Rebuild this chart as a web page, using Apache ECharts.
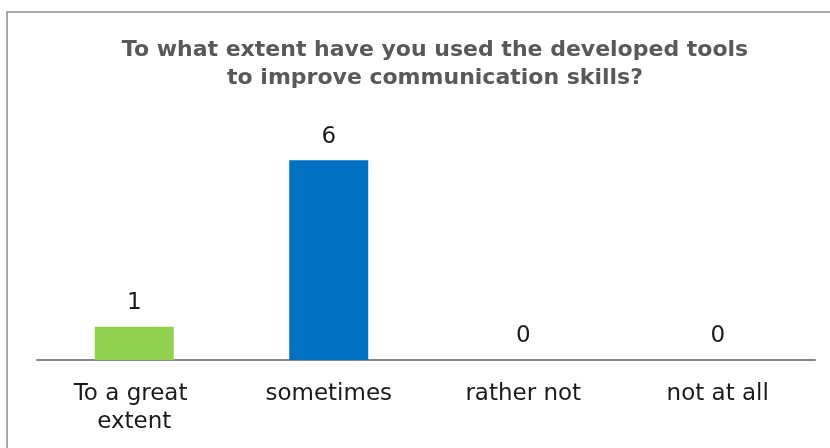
<!DOCTYPE html>
<html>
<head>
<meta charset="utf-8">
<script src="https://cdn.jsdelivr.net/npm/echarts@6/dist/echarts.min.js"></script>
<style>
  html, body { margin: 0; padding: 0; background: #fff; }
  #chart { width: 830px; height: 448px; }
</style>
</head>
<body>
<div id="chart"></div>
<script>
// 数据
const categories = ['To a great extent', 'sometimes', 'rather not', 'not at all'];
const values = [1, 6, 0, 0];
const barColors = ['#92D050', '#0070C0', '#0070C0', '#0070C0'];
const titleText = 'To what extent have you used the developed tools\nto improve communication skills?';

const chart = echarts.init(document.getElementById('chart'));

chart.setOption({
  animation: false,
  // 外框
  graphic: [
    {
      type: 'rect',
      shape: { x: 7, y: 12, width: 900, height: 500 },
      style: { fill: 'none', stroke: '#8c8c8c', lineWidth: 1.5 },
      silent: true,
    },
  ],
  title: {
    text: titleText,
    left: 430,
    top: 31,
    textAlign: 'center',
    textStyle: {
      fontFamily: 'DejaVu Sans',
      fontSize: 22,
      fontWeight: 'bold',
      color: '#595959',
      lineHeight: 28,
    },
  },
  grid: {
    left: 37,
    right: 15,
    top: 127,
    bottom: 88,
  },
  xAxis: {
    type: 'category',
    data: categories,
    axisLine: { lineStyle: { color: '#878787', width: 2 } },
    axisTick: { show: false },
    axisLabel: {
      interval: 0,
      margin: 20,
      width: 150,
      overflow: 'break',
      fontFamily: 'DejaVu Sans',
      fontSize: 23,
      lineHeight: 28,
      color: '#1a1a1a',
    },
  },
  yAxis: {
    type: 'value',
    min: 0,
    max: 7,
    show: false,
    splitLine: { show: false },
  },
  series: [
    {
      type: 'bar',
      data: values.map((v, i) => ({ value: v, itemStyle: { color: barColors[i] } })),
      barWidth: 79,
      label: {
        show: true,
        position: 'top',
        distance: 12,
        fontFamily: 'DejaVu Sans',
        fontSize: 23,
        color: '#1a1a1a',
      },
    },
  ],
});
</script>
</body>
</html>
